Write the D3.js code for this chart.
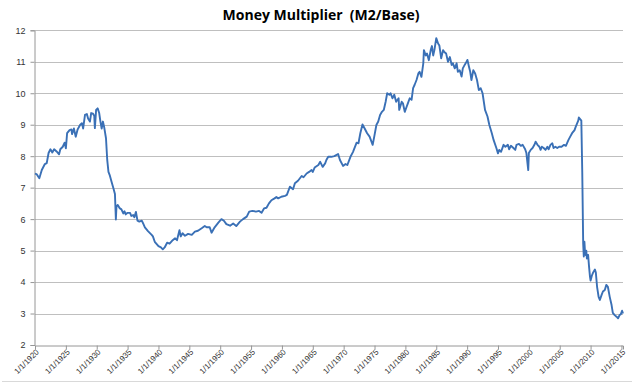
<!DOCTYPE html>
<html>
<head>
<meta charset="utf-8">
<script src="https://cdn.jsdelivr.net/npm/d3@7"></script>
<style>
html,body{margin:0;padding:0;background:#fff;}
svg{display:block;}
</style>
</head>
<body>
<svg id="chart" width="640" height="391"></svg>
<script>
const title = "Money Multiplier  (M2/Base)";
const dates = [1920.0,1920.3,1920.7,1921.1,1921.6,1921.9,1922.2,1922.5,1922.8,1923.1,1923.5,1923.9,1924.1,1924.5,1924.8,1925.0,1925.2,1925.6,1925.9,1926.0,1926.3,1926.6,1926.9,1927.3,1927.6,1927.8,1928.1,1928.4,1928.6,1928.9,1929.1,1929.4,1929.6,1929.7,1929.9,1930.15,1930.4,1930.6,1930.8,1931.0,1931.2,1931.5,1931.7,1931.9,1932.1,1932.4,1932.7,1932.95,1933.1,1933.2,1933.4,1933.7,1934.0,1934.3,1934.5,1934.7,1935.0,1935.4,1935.6,1935.9,1936.1,1936.35,1936.6,1936.9,1937.3,1937.5,1937.8,1938.3,1938.9,1939.1,1939.4,1940.0,1940.4,1940.7,1941.0,1941.4,1941.8,1942.2,1942.7,1943.0,1943.4,1943.6,1943.9,1944.3,1944.8,1945.4,1945.9,1946.4,1947.0,1947.5,1947.8,1948.3,1948.6,1949.1,1949.7,1950.2,1950.6,1951.0,1951.6,1952.1,1952.6,1953.2,1953.7,1954.3,1954.7,1955.2,1955.8,1956.3,1956.7,1957.1,1957.5,1957.9,1958.3,1958.8,1959.1,1959.4,1959.9,1960.5,1960.8,1961.3,1961.6,1961.8,1962.1,1962.6,1963.2,1963.5,1964.0,1964.4,1964.8,1965.0,1965.3,1965.9,1966.2,1966.6,1967.0,1967.2,1967.5,1968.0,1968.5,1969.1,1969.4,1969.9,1970.3,1970.6,1971.1,1971.5,1972.1,1972.4,1972.7,1973.05,1973.4,1973.8,1974.2,1974.7,1975.0,1975.3,1975.6,1975.9,1976.2,1976.5,1976.8,1977.05,1977.4,1977.6,1977.9,1978.2,1978.5,1978.9,1979.0,1979.4,1979.6,1979.9,1980.2,1980.4,1980.7,1981.0,1981.25,1981.5,1981.8,1982.1,1982.3,1982.6,1982.9,1983.0,1983.3,1983.5,1983.8,1984.1,1984.3,1984.5,1984.7,1985.0,1985.3,1985.5,1985.8,1986.1,1986.3,1986.6,1986.9,1987.2,1987.5,1987.7,1988.0,1988.3,1988.5,1988.8,1989.1,1989.3,1989.6,1989.9,1990.05,1990.3,1990.5,1990.7,1991.0,1991.3,1991.6,1991.9,1992.2,1992.5,1992.9,1993.3,1993.6,1994.0,1994.3,1994.75,1995.0,1995.2,1995.5,1995.9,1996.2,1996.6,1996.8,1997.1,1997.5,1997.8,1998.0,1998.4,1998.7,1999.0,1999.4,1999.6,1999.9,2000.0,2000.3,2000.6,2000.9,2001.1,2001.4,2001.7,2001.9,2002.1,2002.4,2002.7,2003.0,2003.2,2003.5,2003.8,2004.0,2004.3,2004.6,2004.9,2005.3,2005.7,2006.0,2006.4,2006.7,2007.0,2007.4,2007.6,2008.0,2008.1,2008.3,2008.5,2008.65,2008.8,2008.9,2009.0,2009.1,2009.2,2009.3,2009.4,2009.6,2009.75,2009.9,2010.0,2010.2,2010.4,2010.7,2010.85,2011.05,2011.3,2011.5,2011.8,2012.0,2012.3,2012.55,2012.8,2013.1,2013.4,2013.6,2013.9,2014.2,2014.45,2014.7,2014.9,2015.1,2015.25];
const values = [7.45,7.42,7.3,7.56,7.75,7.78,8.1,8.22,8.12,8.22,8.15,8.06,8.22,8.3,8.43,8.25,8.73,8.83,8.85,8.7,8.88,8.62,8.85,8.99,9.05,8.88,9.31,9.34,9.2,9.1,9.37,9.35,9.28,8.89,9.47,9.52,9.37,9.1,8.88,9.1,8.93,8.57,7.88,7.5,7.4,7.19,6.98,6.8,5.99,6.4,6.45,6.35,6.31,6.18,6.25,6.15,6.2,6.2,6.1,6.13,6.06,6.23,5.95,5.92,5.95,5.87,5.74,5.62,5.5,5.45,5.28,5.14,5.1,5.04,5.1,5.25,5.22,5.31,5.39,5.33,5.65,5.45,5.55,5.47,5.53,5.5,5.6,5.63,5.71,5.78,5.74,5.74,5.57,5.74,5.89,6.0,5.95,5.84,5.79,5.86,5.78,5.92,6.0,6.08,6.24,6.26,6.24,6.26,6.2,6.34,6.36,6.5,6.6,6.66,6.7,6.66,6.71,6.74,6.77,7.03,6.98,6.95,7.14,7.22,7.37,7.33,7.45,7.5,7.56,7.5,7.64,7.72,7.82,7.66,7.77,7.88,7.98,7.98,8.0,8.07,7.88,7.69,7.75,7.72,7.98,8.13,8.43,8.41,8.73,9.01,8.88,8.73,8.62,8.36,8.67,8.99,9.1,9.31,9.41,9.47,9.73,10.0,9.95,10.0,9.84,9.95,9.73,9.84,9.47,9.73,9.68,9.41,9.57,9.68,9.84,9.79,10.16,10.27,10.42,10.63,10.68,10.52,10.95,11.37,11.2,11.26,11.05,11.37,11.5,11.2,11.37,11.75,11.58,11.52,11.11,11.37,11.31,11.26,11.0,11.15,10.9,10.95,10.79,10.95,10.68,10.73,10.53,10.79,10.9,11.0,11.06,10.84,10.68,10.42,10.73,10.63,10.42,10.1,10.16,10.0,9.47,9.26,8.99,8.73,8.51,8.25,8.09,8.2,8.14,8.36,8.3,8.36,8.22,8.33,8.26,8.2,8.36,8.39,8.33,8.36,8.22,8.1,7.56,8.1,8.2,8.26,8.36,8.46,8.36,8.3,8.2,8.3,8.26,8.2,8.3,8.22,8.36,8.41,8.26,8.3,8.26,8.3,8.3,8.36,8.33,8.51,8.62,8.73,8.83,8.94,9.13,9.23,9.18,9.13,7.5,5.23,4.81,5.28,4.94,4.86,5.0,4.75,4.86,4.49,4.17,4.05,4.2,4.3,4.4,4.3,3.85,3.53,3.43,3.6,3.7,3.75,3.91,3.85,3.53,3.27,3.02,2.95,2.9,2.85,2.95,2.98,3.09,3.0];
const yTicks = [2,3,4,5,6,7,8,9,10,11,12];
const xTickYears = [1920,1925,1930,1935,1940,1945,1950,1955,1960,1965,1970,1975,1980,1985,1990,1995,2000,2005,2010,2015];
const xTickLabels = xTickYears.map(yr => "1/1/" + yr);

(function () {
const svg = d3.select("#chart");
const mLeft = 35, mRight = 623, mTop = 30.3, mBottom = 345;
const x = d3.scaleLinear().domain([1920, 2015.25]).range([mLeft, mRight]);
const y = d3.scaleLinear().domain([2, 12]).range([mBottom, mTop]);

// chart border bottom
svg.append("line").attr("x1", 2).attr("x2", 632).attr("y1", 381.5).attr("y2", 381.5)
  .attr("stroke", "#d9d9d9").attr("stroke-width", 1);

// title
svg.append("text").attr("x", 321).attr("y", 20).attr("text-anchor", "middle")
  .attr("font-family", "Open Sans, Liberation Sans, sans-serif").attr("font-weight", "bold")
  .attr("font-size", 14).attr("fill", "#000").style("white-space", "pre").text(title);

// gridlines
svg.append("g").selectAll("line").data(yTicks.filter(d => d > 2)).join("line")
  .attr("x1", mLeft).attr("x2", mRight)
  .attr("y1", d => Math.round(y(d)) + 0.5).attr("y2", d => Math.round(y(d)) + 0.5)
  .attr("stroke", "#bfbfbf").attr("stroke-width", 1);

// y axis
const yAxis = d3.axisLeft(y).tickValues(yTicks).tickSize(4).tickPadding(5).tickFormat(d3.format("d"));
const gy = svg.append("g").attr("transform", `translate(${mLeft - 0.5},0)`).call(yAxis);
gy.select(".domain").attr("stroke", "#969696");
gy.selectAll(".tick line").attr("stroke", "#969696");
gy.selectAll(".tick text").attr("font-family", "Liberation Sans, Arial, sans-serif").attr("font-size", 9).attr("fill", "#333");

// x axis
const xAxis = d3.axisBottom(x).tickValues(xTickYears).tickSize(4).tickFormat((d, i) => xTickLabels[i]);
const gx = svg.append("g").attr("transform", `translate(0,${mBottom + 0.5})`).call(xAxis);
gx.select(".domain").attr("stroke", "#969696");
gx.selectAll(".tick line").attr("stroke", "#969696");
gx.selectAll(".tick text")
  .attr("font-family", "Liberation Sans, Arial, sans-serif").attr("font-size", 8).attr("fill", "#333")
  .attr("text-anchor", "end").attr("dy", null).attr("y", 0)
  .attr("transform", "translate(4,7) rotate(-45)");

// line
const n = Math.min(dates.length, values.length);
const data = d3.range(n).map(i => [dates[i], values[i]]);
svg.append("path").datum(data)
  .attr("fill", "none").attr("stroke", "#3a70b6").attr("stroke-width", 1.9)
  .attr("stroke-linejoin", "round")
  .attr("d", d3.line().x(d => x(d[0])).y(d => y(d[1])));
})();
</script>
</body>
</html>
